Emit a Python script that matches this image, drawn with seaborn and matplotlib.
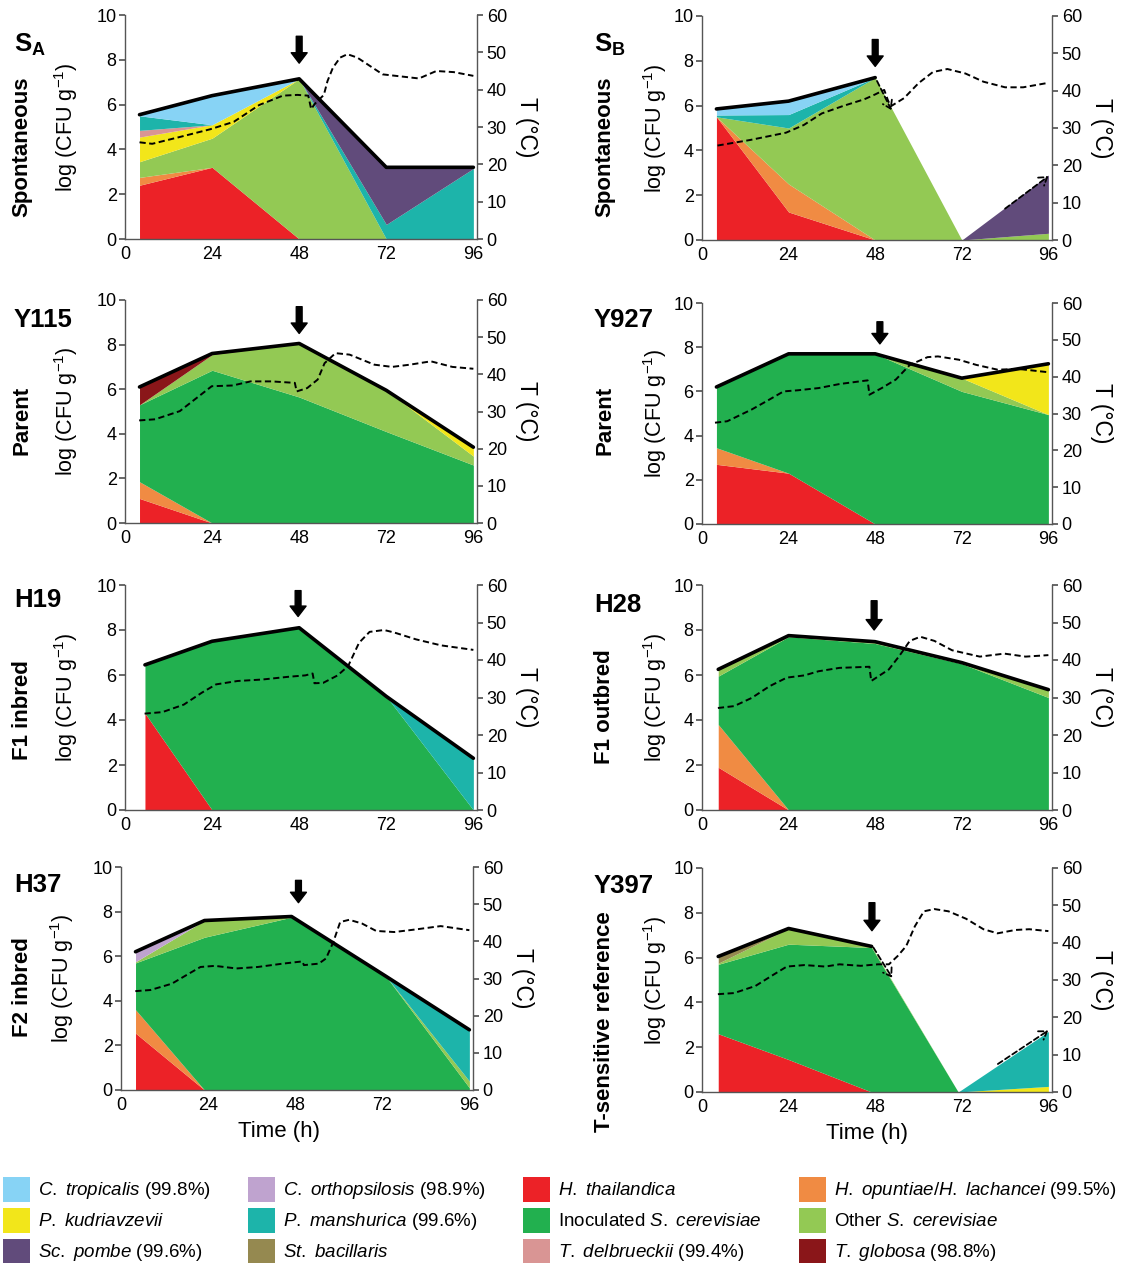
import matplotlib
matplotlib.use("Agg")
import numpy as np
import pandas as pd
import matplotlib.pyplot as plt
import seaborn as sns
from matplotlib.patches import Patch

W, H = 1131, 1263

COLORS = {
    'H. thailandica': '#EC2227',
    'H. opuntiae': '#F08B43',
    'Inoculated S. cerevisiae': '#22B04F',
    'Other S. cerevisiae': '#93C954',
    'P. kudriavzevii': '#F2E61A',
    'T. delbrueckii': '#D99594',
    'P. manshurica': '#1DB4AA',
    'Sc. pombe': '#614B7B',
    'C. tropicalis': '#87D3F5',
    'C. orthopsilosis': '#BFA3CF',
    'St. bacillaris': '#958950',
    'T. globosa': '#8A1619',
}
# bottom -> top order of the stacked areas
STACK_ORDER = list(COLORS)

# ---- S_A ----
sa_time = [4, 24, 48, 72, 96]
sa_counts = {
    'H. thailandica': [2.4, 3.2, 0, 0, 0],
    'H. opuntiae': [0.35, 0, 0, 0, 0],
    'Other S. cerevisiae': [0.7, 1.3, 7.15, 0, 0],
    'P. kudriavzevii': [1.1, 0.6, 0, 0, 0],
    'T. delbrueckii': [0.3, 0, 0, 0, 0],
    'P. manshurica': [0.65, 0, 0, 0.65, 3.15],
    'Sc. pombe': [0, 0, 0, 2.55, 0.05],
    'C. tropicalis': [0.05, 1.3, 0, 0, 0],
}
sa_temp_t = [4, 7.5, 15, 23.5, 30, 37, 43.5, 47.5, 50.5, 51.3, 52.3, 54.8, 55.8, 57.3, 59.3,
             61.3, 64, 71, 81, 85.8, 90.6, 96]
sa_temp = [25.9, 25.5, 27.3, 29.4, 31.4, 35.9, 38.4, 38.6, 38.4, 34.8, 36.2, 38.6, 42.3, 45.9, 48.6,
           49.5, 48.6, 44.1, 43, 45, 44.7, 43.7]

# ---- S_B ----
sb_time = [4, 24, 48, 72, 96]
sb_counts = {
    'H. thailandica': [5.5, 1.25, 0, 0, 0],
    'H. opuntiae': [0, 1.25, 0, 0, 0],
    'Other S. cerevisiae': [0, 2.5, 7.25, 0, 0.3],
    'P. manshurica': [0.08, 0.6, 0, 0, 0],
    'Sc. pombe': [0, 0, 0, 0, 2.6],
    'C. tropicalis': [0.27, 0.6, 0, 0, 0],
}
sb_temp_t = [4.3, 13.4, 23.3, 28.2, 33.2, 39.1, 45, 48, 50.5, 51.5, 52.3, 56, 60, 64, 68, 73, 78,
             84, 89, 96]
sb_temp = [25.3, 26.8, 28.75, 30.8, 33.9, 35.9, 37.7, 39, 40.2, 37.5, 35.8, 38, 42, 45, 45.8,
           44.6, 42.4, 40.9, 40.9, 42.1]

# ---- Y115 ----
y115_time = [4, 24, 48, 72, 96]
y115_counts = {
    'H. thailandica': [1.1, 0, 0, 0, 0],
    'H. opuntiae': [0.75, 0, 0, 0, 0],
    'Inoculated S. cerevisiae': [3.45, 6.85, 5.65, 4.1, 2.6],
    'Other S. cerevisiae': [0, 0.7, 2.4, 1.85, 0.4],
    'P. kudriavzevii': [0, 0, 0, 0, 0.4],
    'T. globosa': [0.8, 0.05, 0, 0, 0],
}
y115_temp_t = [3.9, 8.3, 15.1, 21, 23.9, 29.7, 34.6, 40.4, 46.8, 47.3, 50.2, 53.1, 55, 58, 61.9,
               68.7, 73.6, 78.5, 84.3, 90.2, 96]
y115_temp = [27.6, 27.9, 30.1, 34.6, 36.8, 37, 38.1, 38.1, 37.7, 35.4, 36.3, 38.6, 43, 45.7, 45.3,
             42.6, 42, 42.6, 43.5, 42, 41.5]

# ---- Y927 ----
y927_time = [4, 24, 48, 72, 96]
y927_counts = {
    'H. thailandica': [2.7, 2.3, 0, 0, 0],
    'H. opuntiae': [0.75, 0, 0, 0, 0],
    'Inoculated S. cerevisiae': [2.75, 5.4, 7.7, 6.0, 4.95],
    'Other S. cerevisiae': [0, 0, 0, 0.6, 0],
    'P. kudriavzevii': [0, 0, 0, 0, 2.3],
}
y927_temp_t = [3.6, 7, 13.8, 18.7, 22.6, 26.5, 32.3, 38.1, 45.9, 46.4, 49.8, 53.7, 57.6, 62.5,
               65.4, 71.2, 76, 81.9, 87.7, 96]
y927_temp = [27.5, 27.9, 31.1, 33.8, 36, 36.3, 36.9, 38, 39, 35.1, 36.9, 39.2, 43.2, 45.3, 45.5,
             44.6, 43.2, 41.9, 42.1, 41.2]

# ---- H19 ----
h19_time = [5.5, 24, 48, 72, 96]
h19_counts = {
    'H. thailandica': [4.3, 0, 0, 0, 0],
    'Inoculated S. cerevisiae': [2.15, 7.5, 8.1, 5.05, 0],
    'P. manshurica': [0, 0, 0, 0, 2.3],
}
h19_temp_t = [5.4, 10.3, 16.2, 21.2, 25.1, 31, 37.9, 44.8, 49.7, 51.7, 52.2, 54.6, 58.6, 61.5,
              64.5, 67.4, 71.4, 74.3, 80.2, 87.1, 96]
h19_temp = [25.7, 26.1, 28.1, 31.3, 33.5, 34.4, 34.8, 35.5, 35.9, 36.4, 33.8, 33.9, 35.9, 38.4,
            44.6, 47.5, 48, 47.3, 45.5, 43.9, 42.7]

# ---- H28 ----
h28_time = [4.5, 24, 48, 72, 96]
h28_counts = {
    'H. thailandica': [1.9, 0, 0, 0, 0],
    'H. opuntiae': [1.9, 0, 0, 0, 0],
    'Inoculated S. cerevisiae': [2.15, 7.7, 7.4, 6.5, 5.0],
    'Other S. cerevisiae': [0.3, 0.05, 0.08, 0.05, 0.35],
}
h28_temp_t = [4.4, 8.9, 13.8, 18.7, 23.5, 28.4, 32.3, 38.1, 46.4, 46.9, 51.8, 54.7, 57.6, 60.5,
              64.4, 69.3, 77, 83.8, 89.7, 96]
h28_temp = [27.2, 27.7, 29.9, 33, 35.3, 35.9, 37, 37.9, 38.2, 34.4, 37.5, 41.1, 45.1, 46.2, 45.1,
            42.6, 40.9, 41.7, 40.9, 41.3]

# ---- H37 ----
h37_time = [4, 23, 47, 73, 96]
h37_counts = {
    'H. thailandica': [2.55, 0, 0, 0, 0],
    'H. opuntiae': [1.05, 0, 0, 0, 0],
    'Inoculated S. cerevisiae': [2.1, 6.85, 7.75, 5.1, 0.1],
    'Other S. cerevisiae': [0.05, 0.75, 0.03, 0, 0.3],
    'P. manshurica': [0, 0, 0, 0, 2.3],
    'C. orthopsilosis': [0.45, 0, 0, 0, 0],
}
h37_temp_t = [3.95, 8.1, 14, 18, 21.9, 25.9, 31.8, 37.7, 44.6, 50, 50.4, 54.5, 56.5, 58.5, 60.4,
              62.9, 66.4, 70.3, 75.3, 81.2, 88.1, 96]
h37_temp = [26.6, 26.9, 28.6, 30.9, 33.1, 33.4, 32.7, 33.1, 34, 34.6, 33.6, 34, 35.4, 39.8, 45.2,
            45.8, 44.8, 42.8, 42.5, 43.2, 44.1, 43]

# ---- Y397 ----
y397_time = [4.5, 24, 47, 71, 96]
y397_counts = {
    'H. thailandica': [2.6, 1.45, 0, 0, 0],
    'Inoculated S. cerevisiae': [3.1, 5.15, 6.45, 0, 0],
    'Other S. cerevisiae': [0.05, 0.7, 0.05, 0, 0],
    'P. kudriavzevii': [0, 0, 0, 0, 0.25],
    'P. manshurica': [0, 0, 0, 0, 2.45],
    'St. bacillaris': [0.3, 0, 0, 0, 0],
}
y397_temp_t = [4.4, 8.9, 14.8, 19.6, 23.5, 28.4, 34.2, 38.1, 44, 48.8, 51.8, 54.2, 56.6, 59, 61.5,
               64.4, 68.3, 73.2, 78, 81.9, 86.8, 90.7, 96]
y397_temp = [26.2, 26.5, 28.4, 31.3, 33.6, 34, 33.6, 34.2, 33.8, 34.2, 34.2, 36.4, 39.1, 44.4, 48.4,
             49, 48.4, 46.4, 43.6, 42.5, 43.4, 43.6, 43.1]

LEGEND_LABELS = {
    'C. tropicalis': r'$\mathit{C.\ tropicalis}$ (99.8%)',
    'P. kudriavzevii': r'$\mathit{P.\ kudriavzevii}$',
    'Sc. pombe': r'$\mathit{Sc.\ pombe}$ (99.6%)',
    'C. orthopsilosis': r'$\mathit{C.\ orthopsilosis}$ (98.9%)',
    'P. manshurica': r'$\mathit{P.\ manshurica}$ (99.6%)',
    'St. bacillaris': r'$\mathit{St.\ bacillaris}$',
    'H. thailandica': r'$\mathit{H.\ thailandica}$',
    'Inoculated S. cerevisiae': r'Inoculated $\mathit{S.\ cerevisiae}$',
    'T. delbrueckii': r'$\mathit{T.\ delbrueckii}$ (99.4%)',
    'H. opuntiae': r'$\mathit{H.\ opuntiae/H.\ lachancei}$ (99.5%)',
    'Other S. cerevisiae': r'Other $\mathit{S.\ cerevisiae}$',
    'T. globosa': r'$\mathit{T.\ globosa}$ (98.8%)',
}

SPINE = '#555555'


def draw_panel(fig, p):
    l, r, t, b = p['box']
    ax = fig.add_axes([l / W, 1 - b / H, (r - l) / W, (b - t) / H])
    df = pd.DataFrame(p['counts'], index=p['time'])
    cols = [s for s in STACK_ORDER if s in df.columns]
    ax.stackplot(df.index, *[df[c].values for c in cols],
                 colors=[COLORS[c] for c in cols], linewidth=0)
    total = df[cols].sum(axis=1)
    n = p['total_upto']
    sns.lineplot(x=df.index[:n], y=total.values[:n], color='black', lw=2.6,
                 estimator=None, sort=False, ax=ax)

    # inoculation arrow
    ax_x, a_top, a_tip = p['arrow']
    ax.annotate('', xy=(ax_x, a_tip), xytext=(ax_x, a_top),
                arrowprops=dict(facecolor='black', edgecolor='black', width=4.2,
                                headwidth=11.5, headlength=7.5, shrink=0))
    for (x0, y0), (x1, y1) in p['dashed']:
        ax.annotate('', xy=(x1, y1), xytext=(x0, y0),
                    arrowprops=dict(arrowstyle='->,head_length=0.45,head_width=0.3',
                                    color='black', lw=1.3, linestyle=(0, (3, 1.8)),
                                    shrinkA=0, shrinkB=0))

    ax.set_xlim(0, 97)
    ax.set_ylim(0, 10)
    ax.set_xticks([0, 24, 48, 72, 96])
    ax.set_yticks(range(0, 11, 2))
    ax.tick_params(axis='x', length=0, labelsize=13, pad=5)
    ax.tick_params(axis='y', length=4, color=SPINE, labelsize=13, pad=2)
    for s in ['top', 'right']:
        ax.spines[s].set_visible(False)
    for s in ['left', 'bottom']:
        ax.spines[s].set_color(SPINE)
        ax.spines[s].set_linewidth(1)
    ax.set_ylabel('log (CFU g$^{-1}$)', fontsize=15.5)
    ax.yaxis.set_label_coords(p['ylab_x'], 0.5)

    ax2 = ax.twinx()
    sns.lineplot(x=p['temp_t'], y=p['temp'], color='black', lw=1.4,
                 linestyle=(0, (3.2, 1.8)), estimator=None, sort=False, ax=ax2)
    ax2.set_ylim(0, 60)
    ax2.set_yticks(range(0, 61, 10))
    ax2.tick_params(axis='y', length=4, color=SPINE, labelsize=13, pad=3)
    for s in ['top', 'left', 'bottom']:
        ax2.spines[s].set_visible(False)
    ax2.spines['right'].set_color(SPINE)
    ax2.spines['right'].set_linewidth(1)
    ax2.set_ylabel('T (°C)', fontsize=16.5, rotation=270, va='center')
    ax2.yaxis.set_label_coords(1.14, 0.5)

    if p['xlabel']:
        ax.set_xlabel('Time (h)', fontsize=16)
        ax.xaxis.set_label_coords(p['xlab_x'], -0.14)
    else:
        ax.set_xlabel('')

    tx, ty = p['title_pos']
    fig.text(tx / W, 1 - ty / H, p['name'], fontsize=18.5, fontweight='bold',
             ha='left', va='center')
    rx, ry = p['row_pos']
    fig.text(rx / W, 1 - ry / H, p['row_label'], fontsize=16, fontweight='bold',
             rotation=90, ha='center', va='center')


def main():
    sns.set_theme(style='ticks')
    plt.rcParams['font.family'] = ['Liberation Sans', 'DejaVu Sans']
    plt.rcParams['mathtext.fontset'] = 'custom'
    plt.rcParams['mathtext.rm'] = 'Liberation Sans'
    plt.rcParams['mathtext.it'] = 'Liberation Sans:italic'
    plt.rcParams['mathtext.bf'] = 'Liberation Sans:bold'
    plt.rcParams['text.color'] = 'black'
    plt.rcParams['xtick.color'] = 'black'
    plt.rcParams['ytick.color'] = 'black'
    plt.rcParams['axes.labelcolor'] = 'black'

    fig = plt.figure(figsize=(W / 100, H / 100), dpi=100)

    left = dict(ylab_x=-0.128, xlab_x=0.45)
    right = dict(ylab_x=-0.095, xlab_x=0.47)
    panels = [
        dict(left, name=r'$\mathbf{S}_\mathbf{A}$', row_label='Spontaneous', box=(125, 477, 15, 239),
             time=sa_time, counts=sa_counts, temp_t=sa_temp_t, temp=sa_temp,
             arrow=(48, 9.05, 7.85), total_upto=5, dashed=[], xlabel=False,
             title_pos=(14, 45), row_pos=(22, 147)),
        dict(right, name=r'$\mathbf{S}_\mathbf{B}$', row_label='Spontaneous', box=(702, 1052, 16, 240),
             time=sb_time, counts=sb_counts, temp_t=sb_temp_t, temp=sb_temp,
             arrow=(48, 8.95, 7.75), total_upto=3,
             dashed=[((48.5, 7.1), (52.5, 5.8)), ((84, 1.4), (96, 2.85))], xlabel=False,
             title_pos=(594, 45), row_pos=(605, 147)),
        dict(left, name='Y115', row_label='Parent', box=(125, 477, 300, 523),
             time=y115_time, counts=y115_counts, temp_t=y115_temp_t, temp=y115_temp,
             arrow=(48, 9.7, 8.5), total_upto=5, dashed=[], xlabel=False,
             title_pos=(14, 320), row_pos=(22, 420)),
        dict(right, name='Y927', row_label='Parent', box=(702, 1052, 303, 524),
             time=y927_time, counts=y927_counts, temp_t=y927_temp_t, temp=y927_temp,
             arrow=(49.3, 9.15, 8.15), total_upto=5, dashed=[], xlabel=False,
             title_pos=(594, 320), row_pos=(605, 420)),
        dict(left, name='H19', row_label='F1 inbred', box=(125, 477, 585, 810),
             time=h19_time, counts=h19_counts, temp_t=h19_temp_t, temp=h19_temp,
             arrow=(47.7, 9.75, 8.6), total_upto=5, dashed=[], xlabel=False,
             title_pos=(14, 600), row_pos=(22, 710)),
        dict(right, name='H28', row_label='F1 outbred', box=(702, 1052, 585, 810),
             time=h28_time, counts=h28_counts, temp_t=h28_temp_t, temp=h28_temp,
             arrow=(47.7, 9.3, 8.0), total_upto=5, dashed=[], xlabel=False,
             title_pos=(594, 605), row_pos=(605, 707)),
        dict(left, name='H37', row_label='F2 inbred', box=(121, 473, 867, 1090),
             time=h37_time, counts=h37_counts, temp_t=h37_temp_t, temp=h37_temp,
             arrow=(48.9, 9.4, 8.4), total_upto=5, dashed=[], xlabel=True,
             title_pos=(14, 885), row_pos=(22, 987)),
        dict(right, name='Y397', row_label='T-sensitive reference', box=(702, 1052, 868, 1092),
             time=y397_time, counts=y397_counts, temp_t=y397_temp_t, temp=y397_temp,
             arrow=(47.1, 8.45, 7.2), total_upto=3,
             dashed=[((47.5, 6.45), (52.7, 5.1)), ((82, 1.25), (96, 2.75))], xlabel=True,
             title_pos=(594, 886), row_pos=(605, 1022)),
    ]
    for p in panels:
        draw_panel(fig, p)

    # legend, filled column by column
    order = ['C. tropicalis', 'P. kudriavzevii', 'Sc. pombe',
             'C. orthopsilosis', 'P. manshurica', 'St. bacillaris',
             'H. thailandica', 'Inoculated S. cerevisiae', 'T. delbrueckii',
             'H. opuntiae', 'Other S. cerevisiae', 'T. globosa']
    handles = [Patch(facecolor=COLORS[s], edgecolor='none') for s in order]
    labels = [LEGEND_LABELS[s] for s in order]
    fig.legend(handles, labels, loc='upper left', bbox_to_anchor=(3 / W, 1 - 1177 / H),
               ncol=4, frameon=False, fontsize=13.5, handlelength=1.45, handleheight=1.65,
               handletextpad=0.4, labelspacing=0.33, columnspacing=2.0,
               borderpad=0, borderaxespad=0)

    fig.savefig('out.png', dpi=100)


if __name__ == '__main__':
    main()
